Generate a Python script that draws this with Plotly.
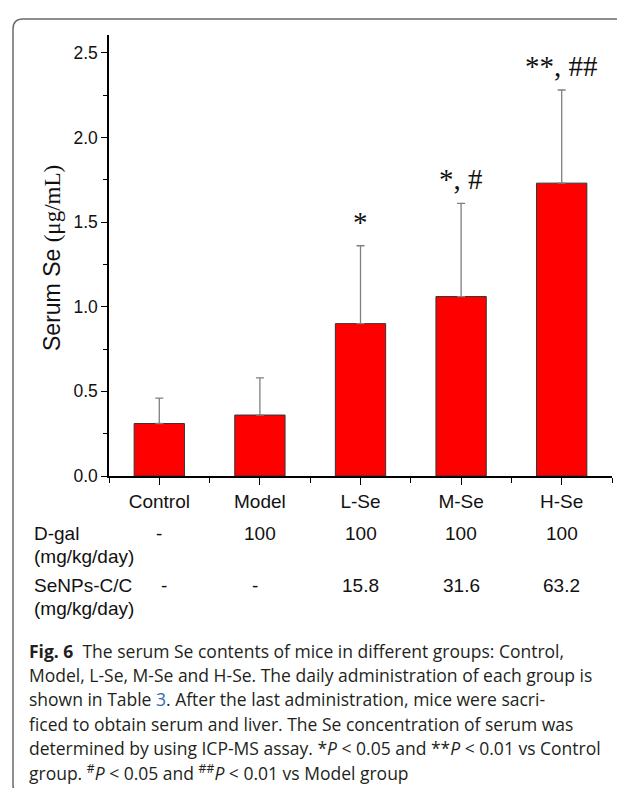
import plotly.graph_objects as go

# ---- data ----
categories = ["Control", "Model", "L-Se", "M-Se", "H-Se"]
serum_se = [0.31, 0.36, 0.90, 1.06, 1.73]
serum_se_sd = [0.15, 0.22, 0.46, 0.55, 0.55]
significance = ["", "", "*", "*, #", "**, ##"]
dgal_dose = ["-", "100", "100", "100", "100"]
senps_dose = ["-", "-", "15.8", "31.6", "63.2"]
y_ticks = [0.0, 0.5, 1.0, 1.5, 2.0, 2.5]

caption_lines = [
    "<b>Fig. 6</b>  The serum Se contents of mice in different groups: Control,",
    "Model, L-Se, M-Se and H-Se. The daily administration of each group is",
    "shown in Table <span style='color:#2f6db5'>3</span>. After the last administration, mice were sacri-",
    "ficed to obtain serum and liver. The Se concentration of serum was",
    "determined by using ICP-MS assay. *<i>P</i> &lt; 0.05 and **<i>P</i> &lt; 0.01 vs Control",
    "group. <sup>#</sup><i>P</i> &lt; 0.05 and <sup>##</sup><i>P</i> &lt; 0.01 vs Model group",
]

# ---- layout geometry (pixels) ----
W, H = 625, 788
L, R, T, B = 101, 21, 27, 320
PW, PH = W - L - R, H - T - B


def px(x):
    return (x - L) / PW


def py(y):
    return (H - B - y) / PH


SANS = "Liberation Sans, Arial, sans-serif"
SERIF = "Liberation Serif, Times New Roman, serif"
CAP = "Open Sans, sans-serif"

xs = list(range(len(categories)))

fig = go.Figure()
fig.add_trace(go.Bar(
    x=xs, y=serum_se, width=0.5,
    marker=dict(color="#ff0000", line=dict(color="#333333", width=1)),
    error_y=dict(type="data", array=serum_se_sd, arrayminus=[0] * len(serum_se_sd),
                 symmetric=False, color="#808080", thickness=1.3, width=4),
    showlegend=False, hoverinfo="skip",
))

annotations = []
# significance marks
for i, s in enumerate(significance):
    if s:
        annotations.append(dict(
            x=xs[i], y=serum_se[i] + serum_se_sd[i], xref="x", yref="y",
            text=s, showarrow=False, yanchor="bottom", yshift=6,
            font=dict(family=SERIF, size=29, color="#111111")))

# dosing table
row_labels = [("D-gal", 525, dgal_dose), ("SeNPs-C/C", 577, senps_dose)]
for lab, ypix, vals in row_labels:
    annotations.append(dict(x=px(24), y=py(ypix), xref="paper", yref="paper",
                            text=lab, showarrow=False, xanchor="left", yanchor="middle",
                            font=dict(family=SANS, size=19, color="#111111")))
    annotations.append(dict(x=px(24), y=py(ypix + 23), xref="paper", yref="paper",
                            text="(mg/kg/day)", showarrow=False, xanchor="left", yanchor="middle",
                            font=dict(family=SANS, size=19, color="#111111")))
    for i, v in enumerate(vals):
        xshift = 0
        if lab.startswith("SeNPs") and i == 0:
            xshift = 5
        if lab.startswith("SeNPs") and i == 1:
            xshift = -5
        annotations.append(dict(x=xs[i], y=py(ypix), xref="x", yref="paper",
                                text=v, showarrow=False, xanchor="center", yanchor="middle",
                                xshift=xshift,
                                font=dict(family=SANS, size=19, color="#111111")))

# y-axis title
annotations.append(dict(
    x=px(44), y=py(250), xref="paper", yref="paper", textangle=-90,
    text="Serum Se <span style='font-family:Liberation Serif'>(μg/mL)</span>",
    showarrow=False, xanchor="center", yanchor="middle",
    font=dict(family=SANS, size=23, color="#111111")))

# caption
for k, line in enumerate(caption_lines):
    annotations.append(dict(
        x=px(19), y=py(643 + 24.2 * k), xref="paper", yref="paper",
        text=line, showarrow=False, xanchor="left", yanchor="middle",
        font=dict(family=CAP, size=17.5, color="#231f20")))

# rounded border
x0, y0, x1, y1, r = 5, 11, 622, 787, 10
path = (f"M {px(x0 + r)} {py(y0)} L {px(x1 - r)} {py(y0)} "
        f"Q {px(x1)} {py(y0)} {px(x1)} {py(y0 + r)} "
        f"L {px(x1)} {py(y1 - r)} Q {px(x1)} {py(y1)} {px(x1 - r)} {py(y1)} "
        f"L {px(x0 + r)} {py(y1)} Q {px(x0)} {py(y1)} {px(x0)} {py(y1 - r)} "
        f"L {px(x0)} {py(y0 + r)} Q {px(x0)} {py(y0)} {px(x0 + r)} {py(y0)} Z")

fig.update_layout(
    width=W, height=H,
    margin=dict(l=L, r=R, t=T, b=B),
    paper_bgcolor="white", plot_bgcolor="white",
    annotations=annotations,
    shapes=[dict(type="path", path=path, xref="paper", yref="paper",
                 line=dict(color="#6b6b6b", width=1.5), layer="below")],
    xaxis=dict(range=[-0.5, 4.5], tickmode="array", tickvals=xs, ticktext=categories,
               showline=True, linecolor="black", linewidth=1.5, ticks="outside",
               ticklen=7, tickwidth=1.3, tickcolor="black", showgrid=False, zeroline=False,
               tickfont=dict(family=SANS, size=19, color="#111111"),
               minor=dict(tickvals=[-0.5, 0.5, 1.5, 2.5, 3.5, 4.5], ticks="outside",
                          ticklen=5, tickwidth=1.3, tickcolor="black", showgrid=False)),
    yaxis=dict(range=[0, 2.605], tickmode="array", tickvals=y_ticks,
               ticktext=[f"{v:.1f}" for v in y_ticks],
               showline=True, linecolor="black", linewidth=1.5, ticks="outside",
               ticklen=6, tickwidth=1.3, tickcolor="black", showgrid=False, zeroline=False,
               tickfont=dict(family=SANS, size=17.5, color="#111111"),
               minor=dict(tickvals=[0.25, 0.75, 1.25, 1.75, 2.25], ticks="outside",
                          ticklen=4, tickwidth=1.3, tickcolor="black", showgrid=False)),
)

fig.write_html("out.html")
